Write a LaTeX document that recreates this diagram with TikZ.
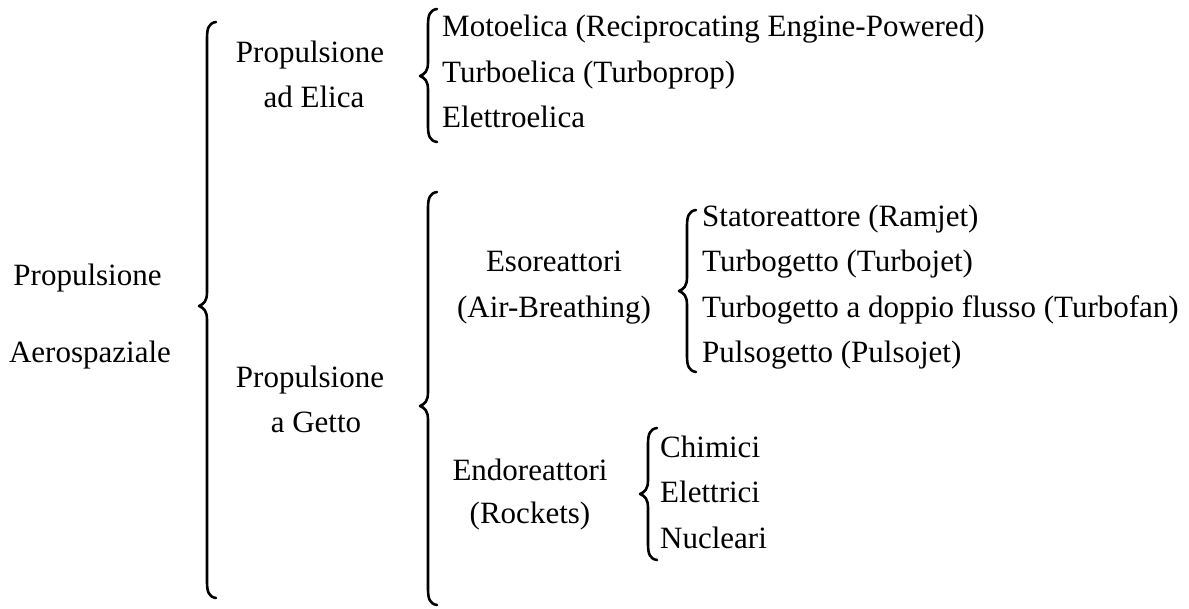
\documentclass[tikz,border=0pt]{standalone}
\usepackage{fontspec}
\setmainfont{Liberation Serif}
\usetikzlibrary{calc}
\tikzset{
  lbl/.style={inner sep=0pt, anchor=base, font=\fontsize{31}{37}\selectfont},
  item/.style={inner sep=0pt, anchor=base west, font=\fontsize{31}{37}\selectfont},
  bracestyle/.style={line width=2.6pt, line cap=round, line join=round, black}
}
\newcommand\mybrace[4]{%
  \draw[bracestyle] (#1+9,#2) .. controls (#1+2,#2+1) and (#1,#2+6) .. (#1,#2+16)
    -- (#1,#3-14) .. controls (#1,#3-5) and (#1-3,#3-2) .. (#1-8,#3)
    .. controls (#1-3,#3+2) and (#1,#3+5) .. (#1,#3+14)
    -- (#1,#4-16) .. controls (#1,#4-6) and (#1+2,#4-1) .. (#1+9,#4);}
\begin{document}
\begin{tikzpicture}[x=1pt,y=-1pt]
\useasboundingbox (0,0) rectangle (1189,609);
% root
\node[lbl] (r1) at (87.5,286) {Propulsione};
\node[lbl] (r2) at (90,363) {Aerospaziale};
\mybrace{207}{22}{306}{598}
% Elica
\node[lbl] (e1) at (310,63) {Propulsione};
\node[lbl] (e2) at (314,108) {ad Elica};
\mybrace{428}{9}{76}{142}
\node[item] (m1) at (442,37) {Motoelica (Reciprocating Engine-Powered)};
\node[item] (m2) at (442,83) {Turboelica (Turboprop)};
\node[item] (m3) at (442,128) {Elettroelica};
% Getto
\node[lbl] (g1) at (310,388) {Propulsione};
\node[lbl] (g2) at (316,433) {a Getto};
\mybrace{428}{192}{406}{605}
% Eso
\node[lbl] (s1) at (554,272) {Esoreattori};
\node[lbl] (s2) at (554,318) {(Air-Breathing)};
\mybrace{687}{210}{291}{372}
\node[item] (a1) at (702,227) {Statoreattore (Ramjet)};
\node[item] (a2) at (702,272) {Turbogetto (Turbojet)};
\node[item] (a3) at (702,318) {Turbogetto a doppio flusso (Turbofan)};
\node[item] (a4) at (702,363) {Pulsogetto (Pulsojet)};
% Endo
\node[lbl] (n1) at (530,480) {Endoreattori};
\node[lbl] (n2) at (530,523) {(Rockets)};
\mybrace{648}{428}{494}{560}
\node[item] (c1) at (660,457) {Chimici};
\node[item] (c2) at (660,502) {Elettrici};
\node[item] (c3) at (660,548) {Nucleari};
\end{tikzpicture}
\end{document}
